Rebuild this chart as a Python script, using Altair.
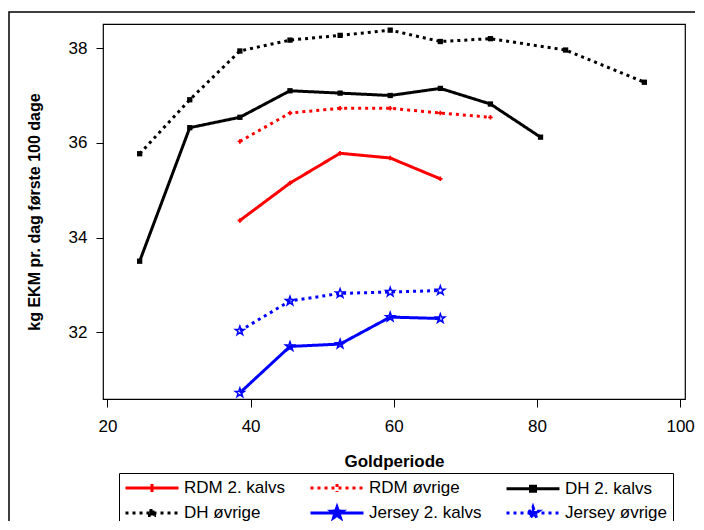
import altair as alt
import pandas as pd

# ---- data ----
series_order = ["RDM 2. kalvs", "RDM øvrige", "DH 2. kalvs",
                "DH øvrige", "Jersey 2. kalvs", "Jersey øvrige"]
series_colors = ["#ff0000", "#ff0000", "#000000", "#000000", "#0000ff", "#0000ff"]
series_dash = [[1, 0], [3, 4], [1, 0], [3, 4], [1, 0], [3, 4]]

rdm2_x = [38.5, 45.5, 52.5, 59.5, 66.5]
rdm2_y = [34.36, 35.15, 35.78, 35.68, 35.24]
rdmo_x = [38.5, 45.5, 52.5, 59.5, 66.5, 73.5]
rdmo_y = [36.03, 36.63, 36.73, 36.73, 36.63, 36.54]
dh2_x = [24.5, 31.5, 38.5, 45.5, 52.5, 59.5, 66.5, 73.5, 80.5]
dh2_y = [33.50, 36.32, 36.54, 37.10, 37.05, 37.00, 37.15, 36.82, 36.12]
dho_x = [24.5, 31.5, 38.5, 45.5, 52.5, 59.5, 66.5, 73.5, 84.0, 95.0]
dho_y = [35.77, 36.91, 37.94, 38.17, 38.27, 38.38, 38.14, 38.20, 37.96, 37.28]
jer2_x = [38.5, 45.5, 52.5, 59.5, 66.5]
jer2_y = [30.72, 31.70, 31.75, 32.32, 32.29]
jero_x = [38.5, 45.5, 52.5, 59.5, 66.5]
jero_y = [32.03, 32.66, 32.82, 32.85, 32.88]

x_ticks = [20, 40, 60, 80, 100]
y_ticks = [32, 34, 36, 38]

rows = []
for name, xs, ys in [
    ("RDM 2. kalvs", rdm2_x, rdm2_y),
    ("RDM øvrige", rdmo_x, rdmo_y),
    ("DH 2. kalvs", dh2_x, dh2_y),
    ("DH øvrige", dho_x, dho_y),
    ("Jersey 2. kalvs", jer2_x, jer2_y),
    ("Jersey øvrige", jero_x, jero_y),
]:
    for xv, yv in zip(xs, ys):
        rows.append({"serie": name, "gold": xv, "ekm": yv,
                     "race": name.split(" ")[0]})
df = pd.DataFrame(rows)

FONT = "Liberation Sans"

xscale = alt.Scale(domain=[19.38, 100.68], nice=False, zero=False)
yscale = alt.Scale(domain=[30.59, 38.51], nice=False, zero=False)

# marker glyph (custom path star)
star_path = ("M0,-1L0.235,-0.324L0.951,-0.309L0.38,0.124L0.588,0.809L0,0.4"
             "L-0.588,0.809L-0.38,0.124L-0.951,-0.309L-0.235,-0.324Z")
# legend glyphs: a long line with the series marker in its middle
leg_line = "M-1,0H5.235"
leg_star = leg_line + ("M2.118,-0.7L2.283,-0.227L2.784,-0.216L2.384,0.087L2.53,0.566"
                       "L2.118,0.28L1.706,0.566L1.852,0.087L1.452,-0.216L1.953,-0.227Z")
leg_sq = leg_line + "M1.824,-0.294H2.412V0.294H1.824Z"
leg_plus = leg_line + "M2.118,-0.47V0.47"
legend_shapes = [leg_plus, leg_plus, leg_sq, leg_sq, leg_star, leg_star]

color_scale = alt.Scale(domain=series_order, range=series_colors)
dash_scale = alt.Scale(domain=series_order, range=series_dash)
shape_scale = alt.Scale(domain=series_order, range=legend_shapes)

legend = alt.Legend(
    title=None, orient="none", legendX=16, legendY=449, columns=3,
    direction="horizontal",
    symbolSize=289, symbolStrokeWidth=3,
    labelFont=FONT, labelFontSize=17, labelColor="black", labelOffset=40,
    columnPadding=18, rowPadding=3, padding=5,
    strokeColor="black", fillColor="white",
)

def color_enc():
    return alt.Color("serie:N", scale=color_scale, sort=series_order, legend=legend)

xenc = alt.X("gold:Q", scale=xscale,
             axis=alt.Axis(values=x_ticks, title="Goldperiode", grid=False,
                           domain=False, tickSize=8, tickColor="black",
                           labelFont=FONT, labelFontSize=17, labelColor="black",
                           labelPadding=11, titleFont=FONT, titleFontSize=17,
                           titleFontWeight="bold", titleColor="black",
                           titlePadding=19))
yenc = alt.Y("ekm:Q", scale=yscale,
             axis=alt.Axis(values=y_ticks, title="kg EKM pr. dag første 100 dage",
                           grid=False, domain=False, tickSize=7, tickColor="black",
                           labelFont=FONT, labelFontSize=17, labelColor="black",
                           labelPadding=9, titleFont=FONT, titleFontSize=16,
                           titleFontWeight="bold", titleColor="black",
                           titlePadding=26))

base = alt.Chart(df)

lines = base.mark_line(strokeWidth=3).encode(
    x=xenc, y=yenc,
    color=color_enc(),
    strokeDash=alt.StrokeDash("serie:N", scale=dash_scale, sort=series_order, legend=legend),
    detail="serie:N")

pts_rdm = base.transform_filter(alt.datum.race == "RDM").mark_point(
    shape="cross", size=20, filled=True, opacity=1).encode(
    x="gold:Q", y="ekm:Q", color=color_enc())
pts_dh = base.transform_filter(alt.datum.race == "DH").mark_point(
    shape="square", size=28, filled=True, opacity=1).encode(
    x="gold:Q", y="ekm:Q", color=color_enc())
pts_jer = base.transform_filter(alt.datum.race == "Jersey").mark_point(
    shape=star_path, size=90, filled=False, strokeWidth=1.5, opacity=1).encode(
    x="gold:Q", y="ekm:Q", color=color_enc())

# legend-only layer: no rows pass the filter; entries come from the scale domains
leg = base.transform_filter("false").mark_point(
    filled=False, strokeWidth=3, opacity=1).encode(
    x="gold:Q", y="ekm:Q",
    color=color_enc(),
    strokeDash=alt.StrokeDash("serie:N", scale=dash_scale, sort=series_order, legend=legend),
    shape=alt.Shape("serie:N", scale=shape_scale, sort=series_order, legend=legend))

frame = alt.Chart(pd.DataFrame({"a": [0]})).mark_rect(
    fill="transparent", stroke="black", strokeWidth=1.5, clip=False).encode(
    x=alt.value(-94), x2=alt.value(800), y=alt.value(-12), y2=alt.value(700))

chart = alt.layer(frame, lines, pts_rdm, pts_dh, pts_jer, leg).properties(
    width=582, height=375,
    autosize="none",
    padding={"left": 95, "top": 16, "right": 10, "bottom": 122},
    background="white",
).configure_view(stroke="black", strokeWidth=1.2)

chart.save("out.html", embed_options={"renderer": "svg", "actions": False})
